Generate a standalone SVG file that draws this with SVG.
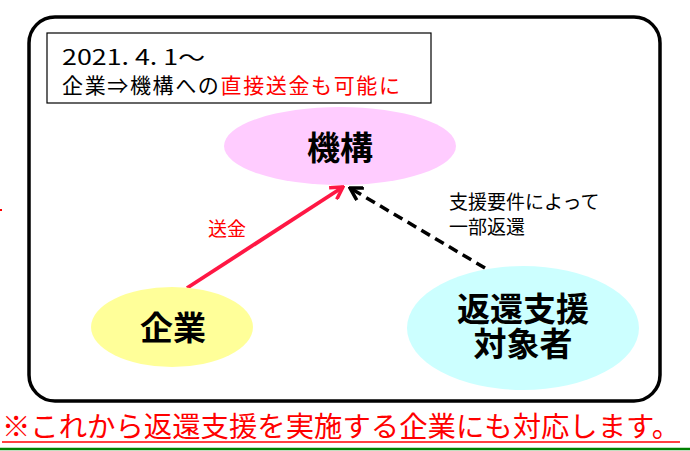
<svg xmlns="http://www.w3.org/2000/svg" width="690" height="451" viewBox="0 0 690 451">
<defs>
<style>
.jp{font-family:"Noto Sans CJK JP","Noto Sans",sans-serif;}
.node{font-weight:bold;font-size:33px;fill:#000;text-anchor:middle;}
.lbl{font-size:19px;}
</style>
<marker id="headRed" viewBox="0 0 16 16" refX="14" refY="8" markerWidth="16" markerHeight="16" markerUnits="userSpaceOnUse" orient="auto">
<polyline points="2,1 14,8 2,15" fill="none" stroke="#FF1744" stroke-width="3.5"/>
</marker>
<marker id="headBlack" viewBox="0 0 16 16" refX="14" refY="8" markerWidth="16" markerHeight="16" markerUnits="userSpaceOnUse" orient="auto">
<polyline points="2,1 14,8 2,15" fill="none" stroke="#000" stroke-width="3.5"/>
</marker>
</defs>
<rect width="690" height="451" fill="#fff"/>
<rect x="29" y="17" width="631" height="384" rx="26" fill="none" stroke="#000" stroke-width="3.5"/>
<g id="note">
<rect x="47" y="33" width="384" height="70" fill="#fff" stroke="#000" stroke-width="1.2"/>
<text class="jp" x="62" y="65" font-size="21" textLength="143" lengthAdjust="spacingAndGlyphs">2021. 4. 1～</text>
<text class="jp" x="62" y="93" font-size="21" textLength="338" lengthAdjust="spacing">企業⇒機構への<tspan fill="#FF0000">直接送金も可能に</tspan></text>
</g>
<g id="connectors">
<line x1="187" y1="288" x2="343" y2="187" stroke="#FF1744" stroke-width="3.8" marker-end="url(#headRed)"/>
<line x1="485" y1="268" x2="350" y2="188" stroke="#000" stroke-width="3.5" stroke-dasharray="10,6" marker-end="url(#headBlack)"/>
<text class="jp lbl" x="208" y="236" fill="#FF0000" font-size="20">送金</text>
<text class="jp lbl" x="449" y="209" fill="#000"><tspan x="449" y="209">支援要件によって</tspan><tspan x="449" y="234">一部返還</tspan></text>
</g>
<g id="kikou">
<ellipse cx="340" cy="146" rx="116" ry="39" fill="#FFCCFF"/>
<text class="jp node" x="340" y="160">機構</text>
</g>
<g id="kigyou">
<ellipse cx="172" cy="327" rx="81" ry="40" fill="#FFFF99"/>
<text class="jp node" x="173" y="340">企業</text>
</g>
<g id="taishousha">
<ellipse cx="523" cy="328" rx="116" ry="62" fill="#CCFFFF"/>
<text class="jp node" font-size="29"><tspan x="523" y="321">返還支援</tspan><tspan x="523" y="356">対象者</tspan></text>
</g>
<rect x="0" y="209" width="2" height="2" fill="#FF0000"/>
<text class="jp" x="2" y="437" font-size="28" fill="#FF0000" textLength="678" lengthAdjust="spacingAndGlyphs">※これから返還支援を実施する企業にも対応します。</text>
<line x1="2" y1="442" x2="680" y2="442" stroke="#FF0000" stroke-width="1.5"/>
<line x1="0" y1="449" x2="690" y2="449" stroke="#008000" stroke-width="2.5"/>
</svg>
